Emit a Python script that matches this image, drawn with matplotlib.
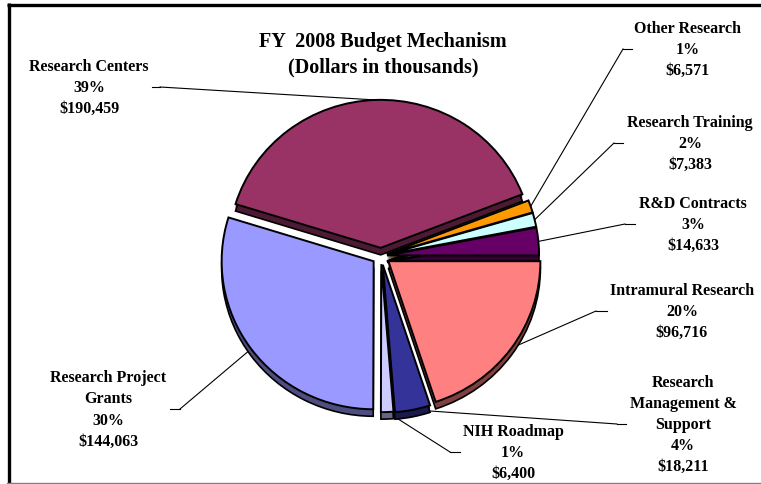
import matplotlib
matplotlib.use("Agg")
import matplotlib.pyplot as plt
import matplotlib.colors as mcolors
import numpy as np

# ---- data (counter-clockwise from 3 o'clock) ----
categories = ["R&D Contracts", "Research Training", "Other Research", "Research Centers",
              "Research Project\nGrants", "NIH Roadmap", "Research\nManagement &\nSupport",
              "Intramural Research"]
values = [14633, 7383, 6571, 190459, 144063, 6400, 18211, 96716]
colors = ["#660066", "#CCFFFF", "#FF9900", "#993366", "#9999FF", "#CCCCFF", "#333399", "#FF8080"]
explode = [0.04, 0.04, 0.04, 0.055, 0.06, 0.055, 0.06, 0.06]

# label layout (pixel positions: text centre x, centre y, leader segment x0, x1, elbow)
label_pos = [(693, 225, 625, 635, 625), (690, 144, 614, 623, 614), (688, 50, 623, 632, 623),
             (89, 88, 152, 160, 160), (108, 410, 170, 180, 180), (513, 453, 450, 460, 450),
             (683, 425, 617, 626, 617), (682, 312, 596, 607, 596)]

W, H = 761, 485
fig = plt.figure(figsize=(W / 100, H / 100), dpi=100)
fig.patch.set_facecolor("white")

# overlay axes in pixel coordinates
ax = fig.add_axes([0, 0, 1, 1])
ax.set_xlim(0, W)
ax.set_ylim(H, 0)
ax.axis("off")

# pie axes
cx, cy, rx, ry = 381, 257, 152, 148
L = 1.4
left = cx - L * rx
top = cy - L * ry
pax = fig.add_axes([left / W, (H - (top + 2 * L * ry)) / H, 2 * L * rx / W, 2 * L * ry / H])

dark = [tuple(0.5 * c for c in mcolors.to_rgb(col)) for col in colors]
depth = 7
for k in range(1, depth + 1):
    pax.pie(values, colors=dark, explode=explode, startangle=0, counterclock=True,
            center=(0, -k / ry), wedgeprops=dict(linewidth=0))
pax.pie(values, colors=dark, explode=explode, startangle=0, counterclock=True,
        center=(0, -depth / ry), wedgeprops=dict(fill=False, edgecolor="black", linewidth=1.2))
wedges, _ = pax.pie(values, colors=colors, explode=explode, startangle=0, counterclock=True,
                    wedgeprops=dict(edgecolor="black", linewidth=1.4))
pax.set_xlim(-L, L)
pax.set_ylim(-L, L)
pax.set_aspect("auto")
pax.axis("off")

total = sum(values)
font = dict(family="Liberation Serif", weight="bold", color="black")

for w, cat, val, (tx, ty, x0, x1, xe) in zip(wedges, categories, values, label_pos):
    pct = round(100 * val / total)
    ax.text(tx, ty, f"{cat}\n{pct}%\n${val:,}", ha="center", va="center",
            multialignment="center", fontsize=11.5, linespacing=1.43, **font)
    th = np.deg2rad((w.theta1 + w.theta2) / 2)
    pt = (w.center[0] + w.r * np.cos(th), w.center[1] + w.r * np.sin(th))
    disp = pax.transData.transform(pt)
    px, py = ax.transData.inverted().transform(disp)
    ax.plot([x0, x1], [ty, ty], color="black", lw=0.8)
    ax.plot([xe, px], [ty, py], color="black", lw=0.8)

ax.text(383, 55, "FY  2008 Budget Mechanism\n(Dollars in thousands)", ha="center", va="center",
        multialignment="center", fontsize=14.5, linespacing=1.39, **font)

# frame
ax.plot([7, W], [5.5, 5.5], color="black", lw=2.4, solid_capstyle="butt")
ax.plot([8.5, 8.5], [4, H], color="black", lw=2.4, solid_capstyle="butt")
ax.plot([7, W], [483.5, 483.5], color="#808080", lw=1.0)

fig.savefig("out.png", dpi=100)
